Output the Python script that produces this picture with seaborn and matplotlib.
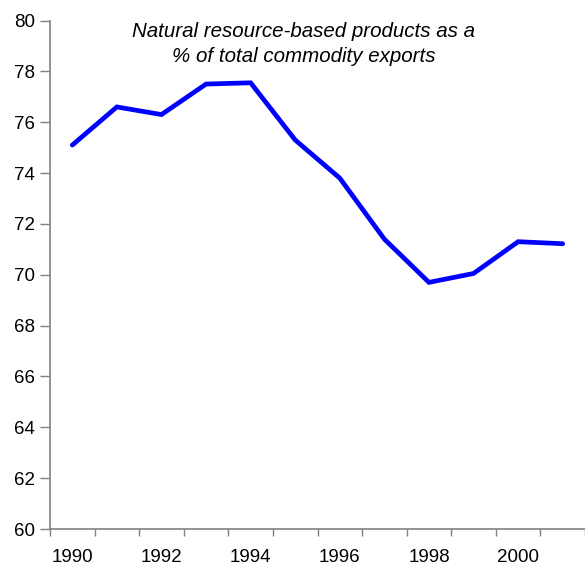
import numpy as np
import pandas as pd
import seaborn as sns
import matplotlib.pyplot as plt

# Data
years = [1990, 1991, 1992, 1993, 1994, 1995, 1996, 1997, 1998, 1999, 2000, 2001]
share = [75.1, 76.6, 76.3, 77.5, 77.55, 75.3, 73.8, 71.4, 69.7, 70.05, 71.3, 71.22]
year_labels = [1990, 1992, 1994, 1996, 1998, 2000]
y_ticks = list(range(60, 81, 2))

df = pd.DataFrame({"Year": years, "Share": share})

sns.set_theme(style="white")
plt.rcParams["font.family"] = ["Liberation Sans", "DejaVu Sans"]
plt.rcParams["text.color"] = "black"

fig = plt.figure(figsize=(5.85, 5.66), dpi=100)
ax = fig.add_axes([50 / 585, 1 - 529 / 566, 1 - 50 / 585, (529 - 20.5) / 566])

sns.lineplot(data=df, x="Year", y="Share", ax=ax, color="#0000FF",
             linewidth=3.4, solid_joinstyle="miter", solid_capstyle="round")

ax.set_xlim(years[0] - 0.5, years[-1] + 0.5)
ax.set_ylim(60, 80)
ax.set_yticks(y_ticks)
ax.set_xticks(year_labels)
ax.set_xticklabels([str(y) for y in year_labels])
ax.set_xticks(np.arange(years[0] - 0.5, years[-1] + 0.6, 1), minor=True)

ax.tick_params(axis="x", which="major", length=0, pad=14.5, labelsize=13.5,
               labelcolor="black")
ax.tick_params(axis="x", which="minor", length=5, width=1, color="#808080",
               direction="out", bottom=True)
ax.tick_params(axis="y", length=7, width=1, color="#808080", direction="out",
               left=True, labelsize=13.5, labelcolor="black", pad=4)

ax.set_xlabel("")
ax.set_ylabel("")
for side in ["top", "right"]:
    ax.spines[side].set_visible(False)
for side in ["left", "bottom"]:
    ax.spines[side].set_color("#808080")
    ax.spines[side].set_linewidth(1.2)

fig.text(304 / 585, 1 - 44 / 566,
         "Natural resource-based products as a\n% of total commodity exports",
         ha="center", va="center", fontsize=14.8, style="italic",
         color="black", linespacing=1.45)

fig.savefig("out.png", dpi=100)
